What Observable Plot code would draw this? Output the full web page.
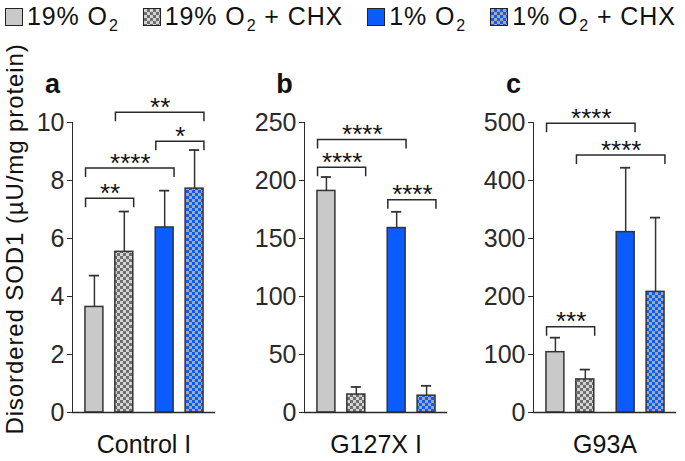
<!DOCTYPE html>
<html>
<head>
<meta charset="utf-8">
<script src="https://cdn.jsdelivr.net/npm/d3@7"></script>
<script src="https://cdn.jsdelivr.net/npm/@observablehq/plot@0.6"></script>
<style>
  html, body { margin: 0; padding: 0; background: #fff; }
  #chart { position: relative; width: 685px; height: 461px; overflow: hidden;
           font-family: Arial, "Liberation Sans", sans-serif; color: #111; }
  #legend { position: absolute; left: 5px; top: 2px; display: flex; align-items: center;
            font-size: 25px; white-space: nowrap; letter-spacing: 0.9px; }
  .item { display: flex; align-items: center; margin-right: 24px; }
  .item:last-child { margin-right: 0; }
  .sw { width: 16px; height: 16px; border: 1.5px solid #222; margin-right: 4px; box-sizing: content-box; }
  sub { font-size: 16px; vertical-align: -6px; line-height: 0; margin-left: 1px; }
  svg.panel { position: absolute; top: 40px; overflow: visible; }
</style>
</head>
<body>
<div id="chart">
  <div id="legend"></div>
</div>
<script>
// ---- data ----
const groups = ["19% O2", "19% O2 + CHX", "1% O2", "1% O2 + CHX"];
const panelLetters = ["a", "b", "c"];
const panelTitles = ["Control I", "G127X I", "G93A"];
const yMaxes = [10, 250, 500];
const yTickSteps = [2, 50, 100];

const meanA = [3.64, 5.54, 6.38, 7.72];
const errTopA = [4.72, 6.93, 7.65, 9.05];
const meanB = [191, 15.5, 159, 14.5];
const errTopB = [203, 22, 173, 23];
const meanC = [104, 57, 311, 208];
const errTopC = [129, 74, 422, 336];

const sigA = [
  {from: 0, to: 1, y: 7.37, label: "**"},
  {from: 0, to: 2, y: 8.41, label: "****"},
  {from: 2, to: 3, y: 9.34, label: "*"},
  {from: 1, to: 3, y: 10.34, label: "**"}
];
const sigB = [
  {from: 0, to: 1, y: 211, label: "****"},
  {from: 0, to: 2, y: 235, label: "****"},
  {from: 2, to: 3, y: 183, label: "****"}
];
const sigC = [
  {from: 0, to: 2, y: 498, label: "****"},
  {from: 1, to: 3, y: 443, label: "****"},
  {from: 0, to: 1, y: 147, label: "***"}
];

// ---- styling ----
const GRAY = "#c9c9c9", BLUE = "#0b5cff", DARK = "#2a2a2a";
const FONT = "Arial, 'Liberation Sans', sans-serif";

// slot position of each group along x (gap between the two O2 conditions)
const slot = i => i + (i >= 2 ? 0.35 : 0);

// ---- legend ----
const swatchCss = [
  `background:${GRAY}`,
  `background: repeating-conic-gradient(#6e6e6e 0 25%, #d4d4d4 0 50%) 0 0/6px 6px`,
  `background:${BLUE}`,
  `background: repeating-conic-gradient(${BLUE} 0 25%, #a8a8a8 0 50%) 0 0/6px 6px`
];
const legend = document.getElementById("legend");
groups.forEach((g, i) => {
  const it = document.createElement("div");
  it.className = "item";
  const sw = document.createElement("div");
  sw.className = "sw";
  sw.setAttribute("style", swatchCss[i]);
  const tx = document.createElement("span");
  tx.innerHTML = g.replace("O2", "O<sub>2</sub>");
  it.append(sw, tx);
  legend.append(it);
});

// ---- panels ----
const panelData = [
  {means: meanA, errs: errTopA, sig: sigA, left: 0, width: 230, ml: 72},
  {means: meanB, errs: errTopB, sig: sigB, left: 230, width: 230, ml: 74},
  {means: meanC, errs: errTopC, sig: sigC, left: 460, width: 225, ml: 73}
];

const chart = document.getElementById("chart");

panelData.forEach((p, k) => {
  const id = panelLetters[k];
  const rows = groups.map((g, i) => ({group: g, pos: slot(i), v: p.means[i], e: p.errs[i], i}));
  const fills = [GRAY, `url(#chkGray-${id})`, BLUE, `url(#chkBlue-${id})`];
  const brackets = p.sig.map(s => ({...s, x1: slot(s.from) - 0.28, x2: slot(s.to) + 0.33}));

  const defsMark = () => {
    const defs = d3.create("svg:defs");
    const mk = (pid, a, b) => {
      const pat = defs.append("pattern").attr("id", pid).attr("patternUnits", "userSpaceOnUse")
        .attr("width", 6).attr("height", 6);
      pat.append("rect").attr("width", 6).attr("height", 6).attr("fill", b);
      pat.append("rect").attr("width", 3).attr("height", 3).attr("fill", a);
      pat.append("rect").attr("x", 3).attr("y", 3).attr("width", 3).attr("height", 3).attr("fill", a);
    };
    mk(`chkGray-${id}`, "#6e6e6e", "#d4d4d4");
    mk(`chkBlue-${id}`, BLUE, "#a8a8a8");
    return defs.node();
  };

  const bracketMark = (index, scales) => {
    const g = d3.create("svg:g").attr("fill", "none").attr("stroke", DARK).attr("stroke-width", 1.5);
    for (const b of brackets) {
      const x1 = scales.x(b.x1), x2 = scales.x(b.x2), y = scales.y(b.y);
      g.append("path").attr("d", `M${x1},${y + 9}V${y}H${x2}V${y + 9}`);
    }
    return g.node();
  };

  const max = yMaxes[k];
  const svg = Plot.plot({
    width: p.width,
    height: 420,
    marginLeft: p.ml,
    marginRight: p.width - p.ml - 143,
    marginTop: 82,
    marginBottom: 48,
    style: {fontFamily: FONT, fontSize: "25px", color: DARK, background: "transparent", overflow: "visible"},
    x: {domain: [-0.733, 4.05], axis: null},
    y: {domain: [0, max], ticks: d3.range(0, max + 1, yTickSteps[k]), tickSize: 5, tickPadding: 3,
        label: null, line: true, tickFormat: d3.format("d")},
    marks: [
      defsMark,
      ...rows.map(r => Plot.rect([r], {
        x1: d => d.pos - 0.3, x2: d => d.pos + 0.3, y1: 0, y2: "v",
        fill: fills[r.i], stroke: "#333", strokeWidth: 1.5
      })),
      Plot.ruleX(rows, {x: "pos", y1: "v", y2: "e", stroke: "#333", strokeWidth: 1.5}),
      Plot.ruleY(rows, {y: "e", x1: d => d.pos - 0.17, x2: d => d.pos + 0.17, stroke: "#333", strokeWidth: 1.8}),
      Plot.ruleY([0], {stroke: DARK, strokeWidth: 1.5}),
      bracketMark,
      Plot.text(brackets, {x: d => (d.x1 + d.x2) / 2, y: "y", text: "label", fontSize: 26,
        lineAnchor: "bottom", dy: 3, fill: "#111", letterSpacing: "1.5px"}),
      Plot.text([id], {frameAnchor: "top-left", textAnchor: "middle", lineAnchor: "bottom",
        dx: -20, dy: -30, fontSize: 27, fontWeight: "bold", fill: "#111"}),
      Plot.text([panelTitles[k]], {frameAnchor: "bottom", textAnchor: "middle", lineAnchor: "bottom",
        dy: 40, fontSize: 25, fill: "#111", letterSpacing: "1.6px"})
    ]
  });
  svg.classList.add("panel");
  svg.style.left = p.left + "px";
  chart.append(svg);
});

// y-axis title
const ysvg = d3.create("svg").attr("width", 40).attr("height", 461)
  .style("position", "absolute").style("left", "0px").style("top", "0px");
ysvg.append("text")
  .attr("transform", "translate(23,239) rotate(-90)")
  .attr("text-anchor", "middle")
  .attr("font-family", FONT).attr("font-size", 24).attr("letter-spacing", "0.9px")
  .attr("fill", "#111")
  .text("Disordered SOD1 (µU/mg protein)");
chart.append(ysvg.node());
</script>
</body>
</html>
